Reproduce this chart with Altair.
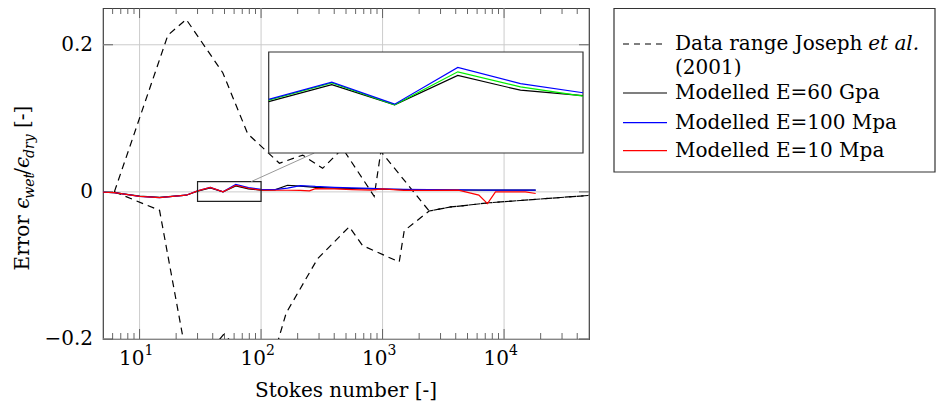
import math
import altair as alt
import pandas as pd

# ---------------- data ----------------
stokes = [5, 6.2, 10, 14.6, 24.2, 30, 38.2, 48.6, 61.9, 78.7, 100, 130, 165, 210, 250, 280,
          400, 560, 800, 1000, 1500, 2400, 4200, 6200, 7300, 8500, 15000, 18200]
err_60gpa = [-0.0005, -0.001, -0.0058, -0.0075, -0.0045, 0.0009, 0.0055, 0.0, 0.0080, 0.0040,
             0.0025, 0.0028, 0.0090, 0.0078, 0.0068, 0.0062, 0.0052, 0.0046, 0.0040, 0.0036,
             0.0031, 0.0028, 0.0026, 0.0025, 0.0025, 0.0024, 0.0024, 0.0024]
err_100mpa = [-0.0005, -0.001, -0.0060, -0.0078, -0.0045, 0.0015, 0.0062, 0.0002, 0.0102, 0.0058,
              0.0033, 0.0030, 0.0050, 0.0086, 0.0080, 0.0074, 0.0062, 0.0054, 0.0048, 0.0042,
              0.0036, 0.0032, 0.0028, 0.0026, 0.0025, 0.0025, 0.0024, 0.0024]
err_10mpa = [-0.0005, -0.001, -0.0060, -0.0078, -0.0045, 0.0013, 0.0060, 0.0, 0.0090, 0.0049,
             0.0024, 0.0022, 0.0022, 0.0020, 0.0015, 0.0045, 0.0040, 0.0030, 0.0025, 0.0042,
             0.0020, 0.0020, 0.0023, -0.0044, -0.0160, 0.0, 0.0, -0.0022]

upper_x = [6.2, 17.1, 24.2, 48.4, 77.6, 141.5, 220, 321, 469, 853, 968, 2417, 3645, 7536, 50000]
upper_y = [0.0, 0.213, 0.2345, 0.162, 0.079, 0.039, 0.050, 0.032, 0.059, -0.006, 0.055,
           -0.026, -0.0205, -0.0148, -0.0048]
lower_x = [6.2, 14.6, 26, 49, 115, 161, 292, 532, 684, 1371, 1507, 2417, 3645, 7536, 50000]
lower_y = [0.0, -0.025, -0.25, -0.194, -0.247, -0.1646, -0.0908, -0.0474, -0.073, -0.0953,
           -0.0528, -0.026, -0.0205, -0.0148, -0.0048]

x_major = [10, 100, 1000, 10000]
x_exponents = ["1", "2", "3", "4"]
y_major = [-0.2, 0.0, 0.2]
y_labels = ["\u22120.2", "0", "0.2"]
x_minor = [m * 10 ** k for k in range(0, 5) for m in range(2, 10)
           if 5 < m * 10 ** k < 50000 and m * 10 ** k not in x_major]

legend_labels = ["Data range Joseph", "Modelled E=60 Gpa", "Modelled E=100 Mpa", "Modelled E=10 Mpa"]
legend_colors = ["black", "black", "#0000ff", "#ff0000"]

# y title pieces: (text, is_subscript, italic)
ytitle_parts = [("Error", False, False), ("\u03f5", False, True), ("wet", True, True),
                ("/", False, False), ("\u03f5", False, True), ("dry", True, True), ("[-]", False, False)]

zoom_x = [30, 100]
zoom_y = [-0.013, 0.014]

# ---------------- layout ----------------
W, H = 486, 331
FONT = "DejaVu Serif"
FS = 20
SUB = 14
XMIN, XMAX = 5, 50000
YMIN, YMAX = -0.2, 0.25
INSET = (165.7, 44, 480, 145)  # x0, y0, x1, y1 in plot pixels
DASH = [7, 5]

xs = alt.Scale(type="log", domain=[XMIN, XMAX], nice=False)
ys = alt.Scale(domain=[YMIN, YMAX], nice=False, zero=False)

def px_x(v):
    return W * (math.log10(v) - math.log10(XMIN)) / (math.log10(XMAX) - math.log10(XMIN))

def px_y(v):
    return H * (YMAX - v) / (YMAX - YMIN)

one = pd.DataFrame({"a": [0]})

models = pd.DataFrame({
    "x": stokes * 3,
    "y": err_60gpa + err_100mpa + err_10mpa,
    "s": ["60"] * len(stokes) + ["100"] * len(stokes) + ["10"] * len(stokes),
})
bounds = pd.DataFrame({
    "x": upper_x + lower_x,
    "y": upper_y + lower_y,
    "s": ["up"] * len(upper_x) + ["lo"] * len(lower_x),
})

X = lambda: alt.X("x:Q", scale=xs, axis=None)
Y = lambda: alt.Y("y:Q", scale=ys, axis=None)

layers = []

# grid
layers.append(alt.Chart(pd.DataFrame({"x": x_major})).mark_rule(color="#cccccc", strokeWidth=1)
              .encode(x=X(), y=alt.value(0), y2=alt.value(H)))
layers.append(alt.Chart(pd.DataFrame({"y": y_major})).mark_rule(color="#cccccc", strokeWidth=1)
              .encode(y=Y(), x=alt.value(0), x2=alt.value(W)))

# ticks (inward, mirrored)
tick_col = "#555555"
for vals, ln in ((x_minor, 6), (x_major, 10)):
    d = pd.DataFrame({"x": vals})
    layers.append(alt.Chart(d).mark_rule(color=tick_col, strokeWidth=0.9)
                  .encode(x=X(), y=alt.value(H), y2=alt.value(H - ln)))
    layers.append(alt.Chart(d).mark_rule(color=tick_col, strokeWidth=0.9)
                  .encode(x=X(), y=alt.value(0), y2=alt.value(ln)))
dy_ = pd.DataFrame({"y": y_major})
layers.append(alt.Chart(dy_).mark_rule(color=tick_col, strokeWidth=0.9)
              .encode(y=Y(), x=alt.value(0), x2=alt.value(10)))
layers.append(alt.Chart(dy_).mark_rule(color=tick_col, strokeWidth=0.9)
              .encode(y=Y(), x=alt.value(W - 10), x2=alt.value(W)))

# data lines
for s in ("up", "lo"):
    layers.append(alt.Chart(bounds[bounds.s == s]).mark_line(clip=True, color="black", strokeWidth=1.2,
                                                             strokeDash=DASH)
                  .encode(x=X(), y=Y()))
for s, c in (("60", "black"), ("100", "#0000ff"), ("10", "#ff0000")):
    layers.append(alt.Chart(models[models.s == s]).mark_line(clip=True, color=c, strokeWidth=1.2)
                  .encode(x=X(), y=Y()))

# zoom box
box = pd.DataFrame({"x": [zoom_x[0]], "x2": [zoom_x[1]], "y": [zoom_y[0]], "y2": [zoom_y[1]]})
layers.append(alt.Chart(box).mark_rect(fillOpacity=0, stroke="#222222", strokeWidth=1.2)
              .encode(x=X(), x2="x2:Q", y=Y(), y2="y2:Q"))

# connector from box centre towards inset centre
bx0, bx1 = px_x(zoom_x[0]), px_x(zoom_x[1])
by0, by1 = px_y(zoom_y[1]), px_y(zoom_y[0])
cx, cy = (bx0 + bx1) / 2, (by0 + by1) / 2
ix, iy = (INSET[0] + INSET[2]) / 2, (INSET[1] + INSET[3]) / 2
t0 = (cy - by0) / (cy - iy)
t1 = (cy - INSET[3]) / (cy - iy)
layers.append(alt.Chart(one).mark_rule(color="#999999", strokeWidth=1)
              .encode(x=alt.value(cx + t0 * (ix - cx)), y=alt.value(by0),
                      x2=alt.value(cx + t1 * (ix - cx)), y2=alt.value(INSET[3])))

# tick labels
dmaj = pd.DataFrame({"x": x_major, "e": x_exponents})
layers.append(alt.Chart(dmaj).mark_text(font=FONT, fontSize=FS, align="right", baseline="alphabetic", dx=5)
              .encode(x=X(), y=alt.value(H + 26), text=alt.value("10")))
layers.append(alt.Chart(dmaj).mark_text(font=FONT, fontSize=SUB, align="left", baseline="alphabetic", dx=5)
              .encode(x=X(), y=alt.value(H + 16), text="e:N"))
layers.append(alt.Chart(pd.DataFrame({"y": y_major, "t": y_labels}))
              .mark_text(font=FONT, fontSize=FS, align="right", baseline="middle", dx=-10)
              .encode(y=Y(), x=alt.value(0), text="t:N"))

# axis titles
layers.append(alt.Chart(one).mark_text(font=FONT, fontSize=FS, align="center", baseline="alphabetic")
              .encode(x=alt.value(W / 2), y=alt.value(H + 58), text=alt.value("Stokes number [-]")))

# y title built from pieces (rotated, reading upwards); advance = width incl. following space
ADV = {"Error": 61.7, "\u03f5": 10.0, "wet": 24.0, "/": 6.8, "dry": 22.0 + 8.0, "[-]": 22.4}
total = sum(ADV[t] for t, _, _ in ytitle_parts)
ybase = 180 + total / 2
XB = -74
for txt, sub, ital in ytitle_parts:
    layers.append(alt.Chart(one).mark_text(font=FONT, fontSize=SUB if sub else FS, align="left",
                                           baseline="alphabetic", angle=270,
                                           fontStyle="italic" if ital else "normal")
                  .encode(x=alt.value(XB + (5 if sub else 0)), y=alt.value(ybase), text=alt.value(txt)))
    ybase -= ADV[txt]

# legend
LX0, LX1, LY0, LY1 = 511, 832, 0.5, 164
layers.append(alt.Chart(one).mark_rect(fill="white", stroke="#333333", strokeWidth=1.2)
              .encode(x=alt.value(LX0), x2=alt.value(LX1), y=alt.value(LY0), y2=alt.value(LY1)))
rows = [36, 85, 114.7, 142.7]
for i, (lab, col, ry) in enumerate(zip(legend_labels, legend_colors, rows)):
    kw = dict(strokeDash=[6, 5]) if i == 0 else {}
    layers.append(alt.Chart(one).mark_rule(color=col, strokeWidth=1.2, **kw)
                  .encode(x=alt.value(520), x2=alt.value(564), y=alt.value(ry), y2=alt.value(ry)))
    layers.append(alt.Chart(one).mark_text(font=FONT, fontSize=FS, align="left", baseline="middle")
                  .encode(x=alt.value(572), y=alt.value(ry), text=alt.value(lab)))
layers.append(alt.Chart(one).mark_text(font=FONT, fontSize=FS, align="left", baseline="middle",
                                       fontStyle="italic")
              .encode(x=alt.value(572 + 9.31 * FS + 7), y=alt.value(rows[0]), text=alt.value("et al.")))
layers.append(alt.Chart(one).mark_text(font=FONT, fontSize=FS, align="left", baseline="middle")
              .encode(x=alt.value(572), y=alt.value(60), text=alt.value("(2001)")))

main = alt.layer(*layers)

# ---------------- inset ----------------
ixs = alt.Scale(type="log", domain=zoom_x, range=[INSET[0], INSET[2]], nice=False)
iys = alt.Scale(domain=[-0.0131, 0.0144], range=[INSET[3], INSET[1]], nice=False, zero=False)
sub_df = models[(models.x >= zoom_x[0]) & (models.x <= zoom_x[1])]
inset_layers = [
    alt.Chart(one).mark_rect(fill="white", stroke="#333333", strokeWidth=1.2)
    .encode(x=alt.value(INSET[0]), x2=alt.value(INSET[2]), y=alt.value(INSET[1]), y2=alt.value(INSET[3]))
]
for s, c in (("60", "black"), ("10", "#00ee00"), ("100", "#0000ff")):
    inset_layers.append(alt.Chart(sub_df[sub_df.s == s]).mark_line(color=c, strokeWidth=1.2)
                        .encode(x=alt.X("x:Q", scale=ixs, axis=None),
                                y=alt.Y("y:Q", scale=iys, axis=None)))
inset = alt.layer(*inset_layers)

chart = (alt.layer(main, inset)
         .resolve_scale(x="independent", y="independent")
         .properties(width=W, height=H, autosize="none",
                     padding={"left": 95, "top": 0, "right": 928 - 95 - W, "bottom": 62})
         .configure_view(stroke="#404040", strokeWidth=1.2))

chart.save("out.html", embed_options={"renderer": "svg", "actions": False})
